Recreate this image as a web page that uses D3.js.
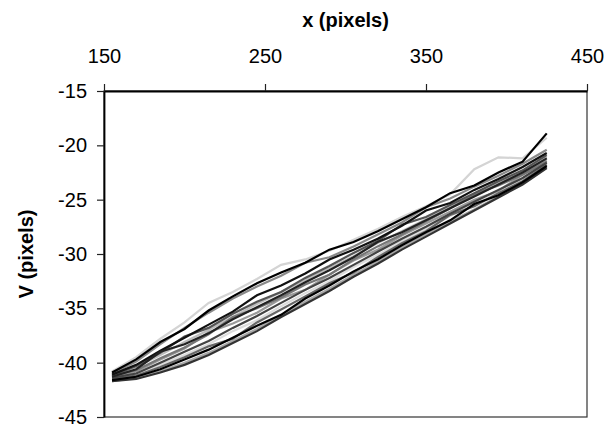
<!DOCTYPE html>
<html>
<head>
<meta charset="utf-8">
<script src="https://cdn.jsdelivr.net/npm/d3@7"></script>
<style>
  body { margin: 0; background: #fff; }
  svg { display: block; font-family: "Liberation Sans", Arial, sans-serif; }
</style>
</head>
<body>
<div id="chart"></div>
<script>
// sample positions along x (pixels)
const xs = [155, 170, 185, 200, 215, 230, 245, 260, 275, 290, 305, 320, 335, 350, 365, 380, 395, 410, 425];

// traces, V (pixels) at each x
const traceA = [-40.8, -39.5, -37.8, -36.3, -34.5, -33.5, -32.3, -31.0, -30.5, -29.7, -28.7, -27.7, -26.6, -25.6, -24.5, -22.2, -21.1, -21.2, -19.3];
const traceB = [-40.9, -39.7, -38.1, -36.9, -35.2, -33.9, -32.7, -31.7, -30.8, -29.6, -28.9, -27.9, -26.8, -25.7, -24.4, -23.7, -22.5, -21.5, -18.9];
const traceC = [-41.0, -39.9, -38.3, -36.8, -35.4, -34.1, -33.0, -32.0, -30.8, -30.3, -29.3, -28.2, -27.1, -25.7, -24.9, -23.8, -22.8, -21.7, -20.4];
const traceD = [-41.1, -40.2, -38.9, -37.7, -36.5, -35.3, -33.8, -32.9, -31.8, -30.5, -29.6, -28.6, -27.4, -26.0, -25.3, -24.1, -23.1, -22.0, -20.7];
const traceE = [-41.2, -40.3, -39.1, -37.6, -36.8, -35.5, -34.4, -33.5, -32.2, -31.1, -29.9, -28.8, -27.3, -26.6, -25.5, -24.4, -23.3, -22.3, -20.9];
const traceF = [-41.2, -40.4, -39.3, -38.1, -37.0, -35.8, -34.6, -33.5, -32.4, -31.3, -30.2, -29.0, -27.9, -26.8, -25.7, -24.5, -23.5, -22.4, -21.1];
const traceG = [-41.3, -40.6, -39.0, -38.3, -37.3, -36.0, -34.9, -33.8, -32.6, -31.5, -30.3, -28.9, -28.0, -26.9, -25.8, -24.7, -23.6, -22.5, -21.2];
const traceH = [-41.4, -40.8, -39.7, -38.7, -37.2, -36.4, -35.4, -34.1, -33.3, -31.9, -30.6, -29.6, -28.3, -27.2, -26.1, -25.0, -24.2, -22.7, -21.4];
const traceI = [-41.4, -41.0, -40.0, -39.0, -38.0, -36.8, -35.7, -34.5, -33.3, -32.2, -31.0, -29.8, -28.6, -27.5, -26.3, -25.2, -24.1, -23.0, -21.6];
const traceJ = [-41.5, -41.1, -40.2, -39.3, -38.3, -37.1, -36.1, -34.8, -33.6, -32.5, -31.2, -30.1, -28.8, -27.7, -26.5, -25.4, -24.3, -23.1, -21.7];
const traceK = [-41.5, -41.2, -40.4, -39.5, -38.5, -37.8, -36.3, -35.1, -33.9, -32.7, -31.7, -30.3, -29.0, -27.9, -26.4, -25.6, -24.4, -23.3, -21.8];
const traceL = [-41.6, -41.3, -40.6, -39.7, -38.8, -37.7, -36.6, -35.6, -34.1, -32.9, -31.6, -30.5, -29.2, -28.0, -26.9, -25.4, -24.6, -23.4, -21.9];
const traceM = [-41.7, -41.4, -40.8, -40.0, -39.1, -38.0, -36.9, -35.6, -34.4, -33.2, -31.9, -30.7, -29.4, -28.2, -27.0, -25.9, -24.7, -23.5, -22.0];
const traceN = [-41.7, -41.5, -40.9, -40.2, -39.3, -38.2, -37.1, -35.8, -34.6, -33.4, -32.1, -30.9, -29.6, -28.4, -27.2, -26.0, -24.8, -23.6, -22.1];
const traceO = [-41.2, -40.7, -39.6, -38.6, -37.4, -35.8, -35.0, -34.0, -32.8, -31.9, -30.5, -29.3, -28.2, -27.0, -25.8, -24.5, -23.7, -22.7, -21.5];

const traces = [traceA, traceC, traceF, traceJ, traceM, traceH, traceO, traceE, traceK, traceD, traceI, traceG, traceN, traceL, traceB];
const traceGreys = ["#d4d4d4", "#8a8a8a", "#bdbdbd", "#dcdcdc", "#a8a8a8", "#9a9a9a", "#777", "#555", "#666", "#111", "#444", "#222", "#333", "#000", "#000"];

const xTicks = [150, 250, 350, 450];
const yTicks = [-15, -20, -25, -30, -35, -40, -45];

const margin = { top: 91, right: 23, bottom: 13, left: 104 };
const width = 610, height = 430;

const svg = d3.select('#chart').append('svg')
  .attr('width', width)
  .attr('height', height);

const x = d3.scaleLinear().domain([150, 450]).range([margin.left, width - margin.right]);
const y = d3.scaleLinear().domain([-15, -45]).range([margin.top, height - margin.bottom]);

// frame
svg.append('rect')
  .attr('x', x(150)).attr('y', y(-15))
  .attr('width', x(450) - x(150)).attr('height', y(-45) - y(-15))
  .attr('fill', 'none').attr('stroke', '#333').attr('stroke-width', 1.2);

// traces
const line = d3.line().x((d, i) => x(xs[i])).y(d => y(d));
svg.append('g')
  .selectAll('path')
  .data(traces)
  .enter()
  .append('path')
  .attr('d', line)
  .attr('fill', 'none')
  .attr('stroke', (d, i) => traceGreys[i])
  .attr('stroke-width', 2.2)
  .attr('stroke-linejoin', 'miter');

// axes
const xAxis = svg.append('g')
  .attr('transform', `translate(0,${y(-15)})`)
  .call(d3.axisTop(x).tickValues(xTicks).tickSize(7).tickSizeOuter(0).tickPadding(21));
const yAxis = svg.append('g')
  .attr('transform', `translate(${x(150)},0)`)
  .call(d3.axisLeft(y).tickValues(yTicks).tickSize(7).tickSizeOuter(0).tickPadding(10)
    .tickFormat(d => d3.format('d')(d).replace('−', '-')));

[xAxis, yAxis].forEach(g => {
  g.select('.domain').attr('stroke', '#000').attr('stroke-width', 1.8);
  g.selectAll('.tick line').attr('stroke', '#222').attr('stroke-width', 1.2);
  g.selectAll('.tick text')
    .attr('fill', '#000')
    .style('font-size', '20px')
    .style('font-family', '"Liberation Sans", Arial, sans-serif');
});

// titles
svg.append('text')
  .attr('x', (x(150) + x(450)) / 2)
  .attr('y', 27)
  .attr('text-anchor', 'middle')
  .style('font-size', '20px')
  .style('font-weight', 'bold')
  .text('x (pixels)');

svg.append('text')
  .attr('transform', `translate(33,${(y(-15) + y(-45)) / 2}) rotate(-90)`)
  .attr('text-anchor', 'middle')
  .style('font-size', '20px')
  .style('font-weight', 'bold')
  .text('V (pixels)');
</script>
</body>
</html>
